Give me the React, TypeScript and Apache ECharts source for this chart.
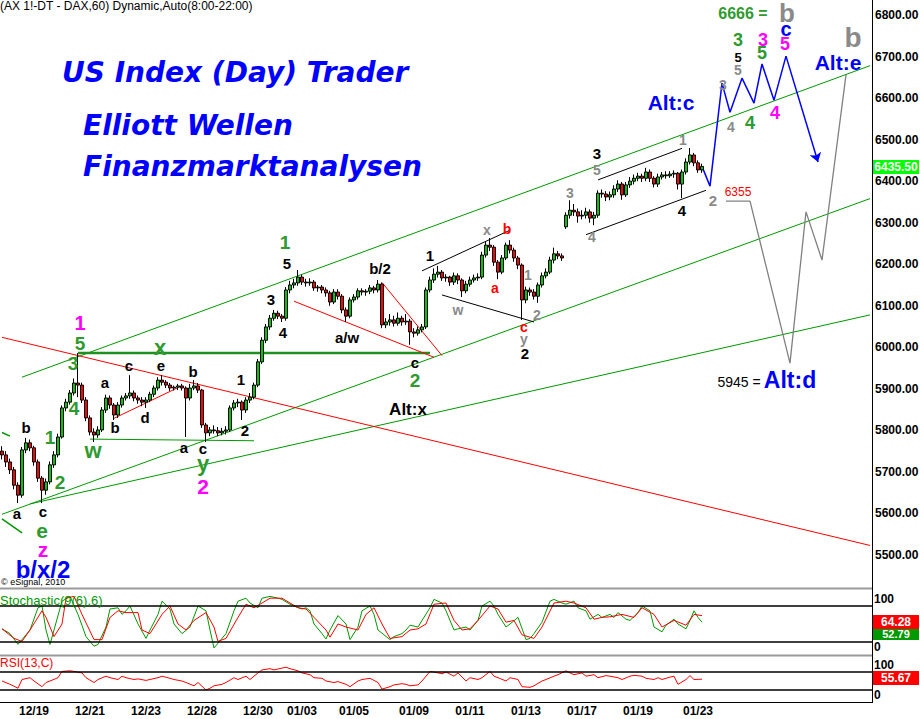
import React, { useEffect, useRef } from "react";
import * as echarts from "echarts";

const FONT = '"Liberation Sans", Arial, sans-serif';
const TITLE_FONT = '"DejaVu Sans", sans-serif';

// 2-hour slots along the time axis (each slot = one 2h bar)
const SLOT_COUNT = 218;
const dateTicks: [number, string][] = [
  [8, "12/19"], [22, "12/21"], [36, "12/23"], [50, "12/28"], [64, "12/30"],
  [75, "01/03"], [88, "01/05"], [103, "01/09"], [117, "01/11"], [131, "01/13"],
  [145, "01/17"], [159, "01/19"], [174, "01/23"],
];

// price bars: [open, close, low, high]
const bars: number[][] = [
  [5750,5741,5730,5762],[5741,5724,5712,5750],[5724,5705,5695,5732],[5705,5668,5658,5712],
  [5668,5644,5625,5675],[5644,5753,5638,5760],[5753,5770,5745,5782],[5770,5758,5750,5778],
  [5758,5724,5715,5763],[5724,5685,5676,5730],[5685,5656,5625,5690],[5656,5676,5645,5684],
  [5676,5717,5670,5725],[5717,5741,5710,5750],[5741,5784,5735,5792],[5784,5854,5780,5860],
  [5854,5868,5846,5876],[5868,5890,5862,5897],[5890,5914,5884,5925],[5914,5909,5880,5986],
  [5909,5873,5866,5915],[5873,5830,5822,5880],[5830,5796,5788,5836],[5796,5789,5772,5805],
  [5789,5801,5782,5810],[5801,5849,5796,5856],[5849,5878,5842,5886],[5878,5861,5852,5884],
  [5861,5837,5825,5866],[5837,5861,5830,5868],[5861,5878,5855,5884],[5878,5883,5872,5890],
  [5883,5890,5876,5933],[5890,5878,5870,5896],[5878,5873,5864,5884],[5873,5868,5858,5880],
  [5868,5873,5854,5880],[5873,5887,5868,5893],[5887,5902,5880,5908],[5902,5921,5896,5928],
  [5921,5916,5908,5933],[5916,5909,5902,5921],[5909,5902,5895,5914],[5902,5904,5896,5908],
  [5904,5907,5897,5912],[5907,5902,5896,5912],[5902,5878,5784,5906],[5878,5902,5872,5912],
  [5902,5907,5897,5921],[5907,5897,5890,5914],[5897,5813,5806,5900],[5813,5794,5772,5818],
  [5794,5801,5786,5808],[5801,5799,5792,5812],[5799,5794,5786,5808],[5794,5798,5788,5806],
  [5798,5801,5790,5810],[5801,5854,5796,5860],[5854,5866,5848,5873],[5866,5868,5856,5876],
  [5868,5849,5825,5872],[5849,5873,5842,5880],[5873,5880,5866,5890],[5880,5909,5875,5915],
  [5909,5965,5904,5972],[5965,6017,5960,6024],[6017,6049,6010,6056],[6049,6070,6042,6078],
  [6070,6082,6064,6090],[6082,6075,6068,6088],[6075,6070,6061,6080],[6070,6138,6064,6145],
  [6138,6150,6130,6160],[6150,6155,6142,6165],[6155,6169,6148,6186],[6169,6157,6150,6175],
  [6157,6155,6146,6165],[6155,6157,6148,6166],[6157,6143,6136,6162],[6143,6145,6134,6150],
  [6145,6138,6130,6150],[6138,6131,6122,6144],[6131,6109,6100,6136],[6109,6133,6104,6140],
  [6133,6123,6115,6140],[6123,6090,6082,6128],[6090,6075,6061,6096],[6075,6114,6070,6120],
  [6114,6121,6108,6128],[6121,6136,6115,6142],[6136,6133,6125,6142],[6133,6135,6124,6140],
  [6135,6143,6128,6150],[6143,6138,6130,6148],[6138,6152,6132,6162],[6152,6054,6046,6156],
  [6054,6061,6046,6070],[6061,6066,6052,6080],[6066,6058,6050,6076],[6058,6070,6052,6084],
  [6070,6061,6052,6076],[6061,6063,6054,6080],[6063,6037,6006,6068],[6037,6034,6024,6046],
  [6034,6042,6028,6050],[6042,6049,6036,6056],[6049,6138,6044,6144],[6138,6162,6132,6170],
  [6162,6176,6155,6190],[6176,6181,6168,6196],[6181,6167,6160,6186],[6167,6169,6158,6176],
  [6169,6157,6148,6172],[6157,6172,6150,6180],[6172,6162,6152,6178],[6162,6136,6121,6166],
  [6136,6152,6130,6160],[6152,6162,6146,6170],[6162,6167,6156,6175],[6167,6169,6160,6178],
  [6169,6222,6164,6230],[6222,6246,6216,6255],[6246,6241,6232,6263],[6241,6205,6196,6246],
  [6205,6181,6164,6210],[6181,6215,6176,6222],[6215,6246,6210,6252],[6246,6234,6226,6258],
  [6234,6215,6206,6240],[6215,6198,6188,6220],[6198,6114,6066,6202],[6114,6138,6106,6146],
  [6138,6133,6124,6144],[6133,6123,6115,6140],[6123,6150,6107,6156],[6150,6172,6144,6180],
  [6172,6181,6166,6190],[6181,6210,6176,6218],[6210,6225,6202,6240],[6225,6220,6212,6232],
  [6220,6215,6208,6226],[6290,6318,6285,6325],[6318,6330,6310,6354],[6330,6326,6316,6345],
  [6326,6316,6300,6334],[6316,6318,6308,6330],[6318,6326,6310,6336],[6326,6311,6300,6332],
  [6311,6318,6294,6326],[6318,6371,6312,6378],[6371,6369,6360,6380],[6369,6362,6352,6376],
  [6362,6367,6354,6375],[6367,6381,6360,6390],[6381,6393,6374,6402],[6393,6367,6355,6398],
  [6367,6391,6362,6398],[6391,6400,6384,6410],[6400,6407,6392,6416],[6407,6412,6400,6420],
  [6412,6407,6398,6418],[6407,6422,6400,6432],[6422,6407,6398,6428],[6407,6393,6385,6412],
  [6393,6410,6386,6418],[6410,6415,6404,6422],[6415,6413,6406,6424],[6413,6417,6408,6424],
  [6417,6419,6408,6426],[6419,6393,6380,6422],[6393,6422,6359,6428],[6422,6446,6416,6455],
  [6446,6463,6440,6480],[6463,6444,6436,6468],[6444,6427,6420,6450],[6427,6435.5,6420,6442],
];

// Stochastic %K (green) and %D (red): [slot, value]
const stochK: number[][] = [
  [0,42],[2,34],[4,16],[7,40],[9,77],[10,80],[11,40],[12,16],[13,40],[15,88],[17,96],[19,66],
  [21,29],[23,13],[24,16],[26,45],[27,75],[29,77],[30,66],[31,72],[32,80],[34,50],[36,26],[37,40],
  [39,66],[40,88],[42,75],[43,50],[45,34],[47,45],[49,80],[51,72],[52,40],[53,10],[54,18],[56,34],
  [58,72],[59,88],[61,93],[62,85],[64,77],[65,93],[67,96],[69,93],[70,91],[72,83],[73,80],[75,75],
  [76,77],[77,72],[78,50],[80,34],[81,25],[82,40],[84,64],[86,50],[87,24],[89,45],[90,72],[92,80],
  [93,66],[94,40],[97,24],[98,29],[100,34],[101,40],[102,48],[104,45],[105,56],[107,77],[108,91],
  [110,85],[111,72],[113,40],[114,42],[116,45],[117,40],[119,56],[120,80],[122,88],[123,80],[124,66],
  [126,45],[127,50],[129,61],[131,24],[132,26],[133,34],[135,53],[137,88],[138,91],[140,85],[141,83],
  [143,88],[144,77],[146,72],[147,58],[149,66],[150,61],[152,66],[153,61],[154,69],[156,58],[157,56],
  [159,69],[160,80],[162,72],[163,45],[165,37],[166,48],[168,58],[169,50],[171,42],[172,56],[173,72],
  [174,61],[175,53],
];
const stochD: number[][] = [
  [0,42],[3,26],[5,21],[7,40],[10,72],[11,61],[13,29],[15,50],[16,93],[18,96],[20,66],[23,24],
  [25,24],[27,61],[29,72],[31,69],[34,69],[35,40],[37,34],[40,66],[42,80],[44,50],[46,40],[48,56],
  [51,69],[53,45],[54,21],[56,26],[59,61],[61,83],[63,77],[65,85],[67,93],[70,93],[72,85],[74,77],
  [76,75],[78,61],[81,40],[82,28],[84,50],[86,45],[89,40],[91,66],[93,77],[95,50],[97,26],[100,29],
  [102,40],[104,42],[106,50],[108,83],[111,85],[113,56],[115,40],[117,42],[119,56],[122,80],[124,75],
  [126,53],[128,56],[130,32],[133,26],[135,45],[138,85],[141,88],[143,85],[146,77],[148,58],[150,61],
  [152,62],[155,66],[158,61],[160,77],[163,66],[165,45],[168,56],[171,48],[173,66],[175,64],
];

// RSI(13): [slot, value]
const rsi13: number[][] = [
  [0,50],[2,39],[4,26],[5,55],[7,61],[8,50],[10,31],[11,45],[12,50],[14,61],[15,82],[17,84],
  [18,82],[20,77],[21,61],[23,45],[24,55],[26,66],[27,61],[29,55],[30,66],[31,61],[33,55],[34,57],
  [36,52],[37,55],[39,61],[40,66],[42,59],[43,55],[45,50],[46,45],[48,34],[49,45],[51,20],[52,26],
  [53,34],[55,39],[56,45],[58,61],[59,55],[61,66],[62,55],[64,77],[65,87],[67,91],[68,87],[70,93],
  [71,96],[72,91],[74,84],[75,77],[77,71],[78,61],[80,59],[81,50],[83,45],[84,48],[86,39],[87,31],
  [89,50],[90,55],[92,59],[93,52],[94,45],[95,23],[97,31],[98,37],[100,41],[101,39],[102,34],[104,37],
  [105,50],[107,82],[108,80],[110,74],[111,80],[113,66],[114,77],[116,50],[117,61],[119,55],[120,61],
  [122,82],[123,66],[124,61],[126,50],[127,61],[129,55],[130,31],[132,29],[133,34],[135,50],[136,55],
  [138,66],[139,71],[141,84],[142,77],[143,71],[145,77],[146,66],[148,71],[149,61],[151,68],[152,66],
  [154,61],[155,55],[157,66],[158,69],[160,66],[161,59],[163,55],[164,61],[165,55],[167,63],[168,66],
  [169,39],[171,55],[172,68],[173,55],[175,56],
];

// trend lines: [slot, price]
const greenUpper = [[5, 5928], [217, 6678]];
const greenMiddle = [[0, 5598], [217, 6358]];
const greenLower = [[7, 5623], [217, 6078]];
const greenStubTop = [[0, 5795], [2, 5786]];
const greenStubBottom = [[0, 5587], [5, 5553]];
const greenX = [[19, 5986], [107, 5986]];
const greenW = [[22, 5779], [63, 5775]];
const redLong = [[0, 6024], [217, 5523]];
const redTriangle = [[28, 5829], [44, 5903]];
const redWedgeLow = [[73, 6111], [108, 5976]];
const redWedgeHigh = [[95, 6156], [110, 5980]];
const blackUpper1 = [[105, 6184], [127, 6282]];
const blackLower1 = [[110, 6126], [133, 6061]];
const blackUpper2 = [[149, 6403], [170, 6479]];
const blackLower2 = [[146, 6271], [176, 6378]];
const blueProjection = [[175, 6435.5], [177, 6388], [180, 6636], [182, 6566], [185, 6648], [188, 6588], [190, 6682], [193, 6595], [196, 6701]];
const blueArrow = [[196, 6701], [204, 6446]];
const grayProjection = [[181, 6352], [187, 6352], [197, 5962], [201, 6326], [205, 6210], [211, 6656]];

const COL: Record<string, string> = {
  k: "#000000", g: "#2f9a2f", m: "#ff00ff", b: "#0000ff", r: "#ff0000", gr: "#8a8a8a",
};

// annotation texts: [text, x, y, colour, size]
const waveLabels: [string, number, number, string, number][] = [
  ["a",17,513,"k",15],["b",26,427,"k",15],["c",43,511,"k",15],["e",42,530,"g",21],
  ["z",43,549,"m",21],["b/x/2",43,569,"b",24],["1",50,437,"g",19],["2",60,482,"g",19],
  ["4",74,408,"g",19],["3",73,363,"g",19],["5",80,343,"g",19],["1",80,323,"m",20],
  ["w",93,450,"g",22],["a",105,382,"k",15],["b",115,427,"k",15],["c",129,365,"k",15],
  ["d",145,417,"k",15],["e",161,365,"k",15],["x",160,347,"g",22],["b",193,371,"k",15],
  ["a",184,447,"k",15],["c",203,448,"k",15],["y",203,463,"g",22],["2",203,486,"m",21],
  ["1",241,379,"k",15],["2",245,430,"k",15],["3",271,299,"k",15],["4",283,332,"k",15],
  ["5",287,263,"k",15],["1",285,242,"g",19],["a/w",347,337,"k",15],["b/2",380,268,"k",15],
  ["c",415,362,"k",15],["2",415,380,"g",19],["Alt:x",408,409,"k",17],["1",430,255,"k",15],
  ["w",458,310,"gr",14],["x",487,230,"gr",14],["b",507,229,"r",14],["a",495,288,"r",14],
  ["1",528,275,"gr",14],["2",537,315,"gr",14],["c",524,327,"r",14],["y",524,339,"gr",14],
  ["2",525,353,"k",15],["3",570,193,"gr",14],["3",597,153,"k",15],["5",597,170,"gr",14],
  ["4",592,237,"gr",14],["4",682,210,"k",15],["1",683,140,"gr",14],["2",713,200,"gr",15],
  ["Alt:c",671,102,"b",21],["3",723,85,"gr",14],["4",731,127,"gr",14],["5",738,70,"gr",14],
  ["5",738,57,"k",13],["3",738,40,"g",18],["4",750,123,"g",18],["5",762,53,"g",18],
  ["3",763,40,"m",18],["4",775,113,"m",18],["5",785,44,"m",18],["c",786,29,"b",20],
  ["b",787,13,"gr",26],["b",853,37,"gr",28],["Alt:e",838,62,"b",21],["Alt:d",790,380,"b",23],
  ["6666 =",743,13,"g",16],
];
const plainLabels: [string, number, number, string, number][] = [
  ["5945 =",739,382,"k",14],["6355",738,192,"r",12],
];

function txt(text: string, x: number, y: number, fill: string, size: number, weight = "bold", align = "center", family = FONT, extra: any = {}) {
  return {
    type: "text", x, y, z: 100, silent: true,
    style: { text, fill, font: `${weight} ${size}px ${family}`, align, verticalAlign: "middle", ...extra },
  };
}
function hline(x1: number, y1: number, x2: number, y2: number, stroke: string, lineWidth: number) {
  return { type: "line", z: 60, silent: true, shape: { x1, y1, x2, y2 }, style: { stroke, lineWidth } };
}
function box(x: number, y: number, w: number, h: number, fill: string) {
  return { type: "rect", z: 90, silent: true, shape: { x, y, width: w, height: h }, style: { fill } };
}

export default function App() {
  const ref = useRef<HTMLDivElement>(null);
  useEffect(() => {
    const chart = echarts.init(ref.current!, null, { renderer: "svg" });
    const cats = Array.from({ length: SLOT_COUNT }, (_, i) => "s" + i);
    const dateMap: Record<number, string> = {};
    dateTicks.forEach(([i, d]) => (dateMap[i] = d));

    const baseX = (gridIndex: number) => ({
      type: "category", gridIndex, data: cats, boundaryGap: true,
      axisLine: { show: false }, axisTick: { show: false }, axisLabel: { show: false }, splitLine: { show: false },
    });

    const trend = (data: number[][], color: string, width = 1) => ({
      type: "line", xAxisIndex: 0, yAxisIndex: 0, data, symbol: "none", silent: true, z: 4,
      lineStyle: { color, width }, itemStyle: { color },
    });

    const bandLines = {
      silent: true, symbol: "none", label: { show: false },
      lineStyle: { color: "#000", width: 1.5, type: "solid" },
      data: [{ yAxis: 80 }, { yAxis: 20 }],
    };

    const graphics: any[] = [
      txt("(AX 1!-DT - DAX,60) Dynamic,Auto(8:00-22:00)", 0, 6, "#000", 12, "normal", "left"),
      txt("US Index (Day) Trader", 62, 72, "#0000ff", 28, "italic bold", "left", TITLE_FONT),
      txt("Elliott Wellen", 83, 125, "#0000ff", 28, "italic bold", "left", TITLE_FONT),
      txt("Finanzmarktanalysen", 83, 166, "#0000ff", 28, "italic bold", "left", TITLE_FONT),
      txt("\u00a9 eSignal, 2010", 1, 582, "#000", 9, "normal", "left"),
      txt("Stochastic(9(6),6)", 0, 600, "#009900", 13, "normal", "left"),
      txt("RSI(13,C)", 0, 663, "#ff0000", 12, "normal", "left"),
      hline(0, 588.5, 872, 588.5, "#9a9a9a", 2),
      hline(0, 655.5, 872, 655.5, "#9a9a9a", 2),
      hline(0, 702.5, 872, 702.5, "#000", 1),
      hline(872.5, 0, 872.5, 703, "#000", 1),
      txt("100", 874, 599, "#000", 12, "bold", "left"),
      txt("0", 874, 647, "#000", 12, "bold", "left"),
      txt("100", 874, 665, "#000", 12, "bold", "left"),
      txt("0", 874, 695, "#000", 12, "bold", "left"),
      box(873, 160, 46, 14, "#00ff00"),
      txt("6435.50", 896, 167, "#ffffff", 12, "bold"),
      box(873, 628, 46, 12, "#009900"),
      txt("52.79", 896, 634, "#ffffff", 11, "bold"),
      box(873, 615, 46, 14, "#ff0000"),
      txt("64.28", 896, 622, "#ffffff", 12, "bold"),
      box(873, 671, 46, 14, "#ff0000"),
      txt("55.67", 896, 678, "#ffffff", 12, "bold"),
    ];
    waveLabels.forEach(([t, x, y, c, s]) => graphics.push(txt(t, x, y, COL[c], s, "bold")));
    plainLabels.forEach(([t, x, y, c, s]) => graphics.push(txt(t, x, y, COL[c], s, "normal")));

    const option: any = {
      animation: false,
      backgroundColor: "#ffffff",
      textStyle: { fontFamily: FONT },
      grid: [
        { left: 0, right: 48, top: -26.54, height: 623.07, containLabel: false, outerBoundsMode: "none" },
        { left: 0, right: 48, top: 594, height: 60, containLabel: false, outerBoundsMode: "none" },
        { left: 0, right: 48, top: 666, height: 30, containLabel: false, outerBoundsMode: "none" },
      ],
      xAxis: [
        baseX(0),
        baseX(1),
        {
          ...baseX(2),
          axisLabel: {
            show: true,
            interval: (i: number) => dateMap[i] !== undefined,
            formatter: (_v: string, i: number) => dateMap[i] || "",
            color: "#000", fontWeight: "bold", fontSize: 12, fontFamily: FONT, margin: 9,
          },
        },
      ],
      yAxis: [
        {
          type: "value", gridIndex: 0, position: "right", min: 5400, max: 6900, interval: 100,
          axisLine: { show: false }, axisTick: { show: false }, splitLine: { show: false },
          axisLabel: {
            formatter: (v: number) => (v <= 5400 || v >= 6900 ? "" : v.toFixed(2)),
            color: "#000", fontWeight: "bold", fontSize: 12, fontFamily: FONT, margin: 3,
          },
        },
        { type: "value", gridIndex: 1, min: 0, max: 100, show: false, splitLine: { show: false } },
        { type: "value", gridIndex: 2, min: 0, max: 100, show: false, splitLine: { show: false } },
      ],
      series: [
        trend(greenUpper, "#009900"),
        trend(greenMiddle, "#009900"),
        trend(greenLower, "#009900"),
        trend(greenStubTop, "#009900", 1.5),
        trend(greenStubBottom, "#009900", 1.5),
        trend(greenX, "#1f8f1f", 2.5),
        trend(greenW, "#009900"),
        trend(redLong, "#ff0000"),
        trend(redTriangle, "#ff0000"),
        trend(redWedgeLow, "#ff0000"),
        trend(redWedgeHigh, "#ff0000"),
        trend(blackUpper1, "#000000"),
        trend(blackLower1, "#000000"),
        trend(blackUpper2, "#000000"),
        trend(blackLower2, "#000000"),
        {
          type: "candlestick", xAxisIndex: 0, yAxisIndex: 0, data: bars, barWidth: 3, z: 5, silent: true,
          itemStyle: { color: "#00c800", color0: "#ff0000", borderColor: "#000000", borderColor0: "#000000", borderWidth: 1 },
        },
        trend(grayProjection, "#808080", 1.3),
        {
          ...trend(blueProjection, "#0000ff", 1.5),
          markLine: {
            silent: true, symbol: ["none", "arrow"], symbolSize: 9, label: { show: false },
            lineStyle: { color: "#0000ff", width: 1.5, type: "solid" },
            data: [[{ coord: blueArrow[0] }, { coord: blueArrow[1] }]],
          },
        },
        {
          type: "line", xAxisIndex: 1, yAxisIndex: 1, data: stochK, symbol: "none", silent: true,
          lineStyle: { color: "#009900", width: 1 }, itemStyle: { color: "#009900" }, markLine: bandLines,
        },
        {
          type: "line", xAxisIndex: 1, yAxisIndex: 1, data: stochD, symbol: "none", silent: true,
          lineStyle: { color: "#ff0000", width: 1 }, itemStyle: { color: "#ff0000" },
        },
        {
          type: "line", xAxisIndex: 2, yAxisIndex: 2, data: rsi13, symbol: "none", silent: true,
          lineStyle: { color: "#ff0000", width: 1 }, itemStyle: { color: "#ff0000" }, markLine: bandLines,
        },
      ],
      graphic: graphics,
    };
    chart.setOption(option);
    return () => chart.dispose();
  }, []);
  return <div ref={ref} style={{ position: "absolute", left: 0, top: 0, width: 920, height: 719, background: "#fff" }} />;
}
